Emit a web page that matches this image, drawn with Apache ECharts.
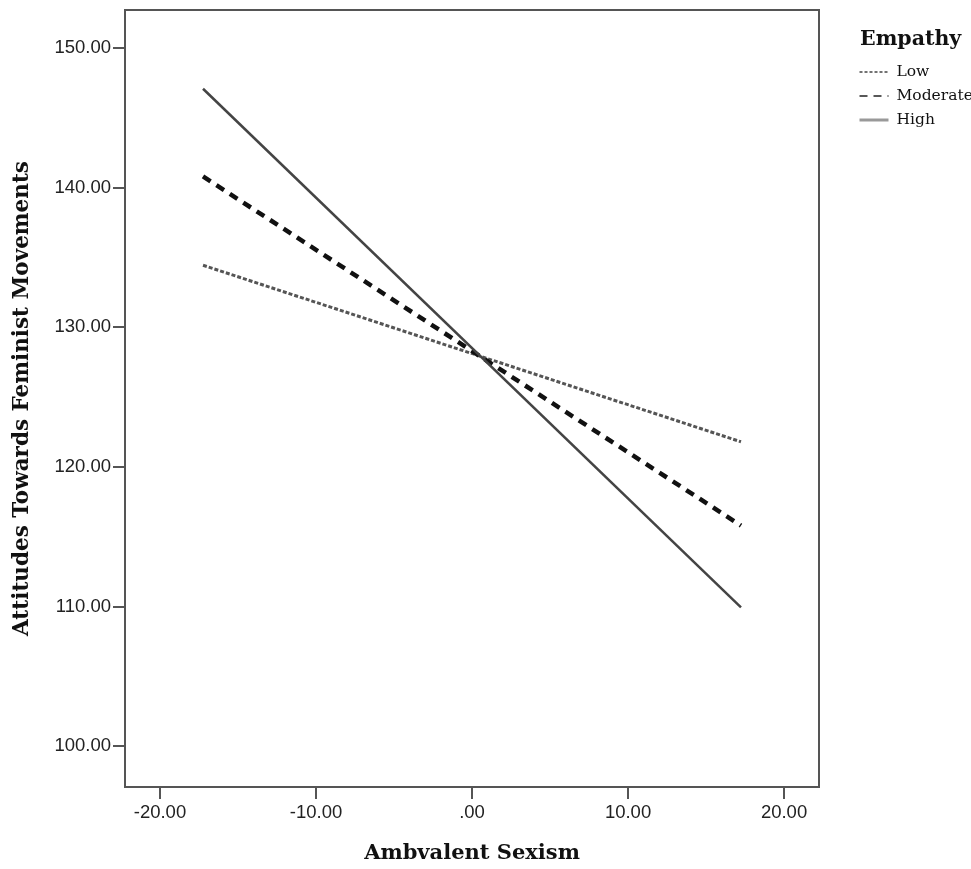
<!DOCTYPE html>
<html>
<head>
<meta charset="utf-8">
<script src="https://cdn.jsdelivr.net/npm/echarts@6/dist/echarts.min.js"></script>
<style>
  html, body { margin: 0; padding: 0; background: #fff; }
  #chart { width: 971px; height: 869px; }
</style>
</head>
<body>
<div id="chart"></div>
<script>
// 图例分组
const groups = ["Low", "Moderate", "High"];
// x 端点 (Ambvalent Sexism)
const xEnds = [-17.24, 17.24];
// 各组 y 端点
const lowVals = [134.43, 121.79];
const moderateVals = [140.79, 115.79];
const highVals = [147.07, 109.93];
// 刻度
const xTicks = [-20, -10, 0, 10, 20];
const yTicks = [100, 110, 120, 130, 140, 150];

function pairs(ys) {
  return xEnds.map((x, i) => [x, ys[i]]);
}
function fmt(v) {
  if (v === 0) return ".00";
  return v.toFixed(2);
}

const myChart = echarts.init(document.getElementById("chart"));
const axisColor = "#555";
const serif = "DejaVu Serif";

const option = {
  backgroundColor: "#fff",
  animation: false,
  title: {
    text: "Empathy",
    left: 855,
    top: 24,
    textStyle: { fontFamily: serif, fontWeight: "bold", fontSize: 20.5, color: "#111" }
  },
  legend: {
    orient: "vertical",
    left: 853,
    top: 59,
    itemWidth: 29,
    itemHeight: 14,
    itemGap: 8,
    textStyle: { fontFamily: serif, fontSize: 15.5, lineHeight: 14, color: "#111", padding: [0, 0, 0, 3] },
    data: [
      { name: groups[0], itemStyle: { opacity: 0 }, lineStyle: { width: 1.5, color: "#444", type: [3, 2] } },
      { name: groups[1], itemStyle: { opacity: 0 }, lineStyle: { width: 1.5, color: "#222", type: [8, 6] } },
      { name: groups[2], itemStyle: { opacity: 0 }, lineStyle: { width: 3, color: "#999", type: "solid" } }
    ]
  },
  grid: {
    left: 125,
    right: 152,
    top: 10,
    bottom: 81,
    show: true,
    borderColor: axisColor,
    borderWidth: 2
  },
  xAxis: {
    type: "value",
    min: -22.24,
    max: 22.24,
    name: "Ambvalent Sexism",
    nameLocation: "middle",
    nameGap: 56,
    nameMoveOverlap: false,
    nameTextStyle: { fontFamily: serif, fontWeight: "bold", fontSize: 21, color: "#111" },
    axisLine: { show: true, onZero: false, lineStyle: { color: axisColor, width: 2 } },
    axisTick: { show: true, inside: false, length: 12, customValues: xTicks, lineStyle: { color: axisColor, width: 2 } },
    axisLabel: {
      customValues: xTicks,
      formatter: fmt,
      margin: 16,
      fontFamily: "Liberation Sans",
      fontSize: 18.5,
      color: "#222"
    },
    splitLine: { show: false }
  },
  yAxis: {
    type: "value",
    min: 97.07,
    max: 152.71,
    name: "Attitudes Towards Feminist Movements",
    nameLocation: "middle",
    nameRotate: 90,
    nameGap: 92,
    nameTextStyle: { fontFamily: serif, fontWeight: "bold", fontSize: 21.5, color: "#111" },
    axisLine: { show: true, onZero: false, lineStyle: { color: axisColor, width: 2 } },
    axisTick: { show: true, inside: false, length: 12, customValues: yTicks, lineStyle: { color: axisColor, width: 2 } },
    axisLabel: {
      customValues: yTicks,
      formatter: fmt,
      margin: 14,
      fontFamily: "Liberation Sans",
      fontSize: 18.5,
      color: "#222"
    },
    splitLine: { show: false }
  },
  series: [
    {
      name: groups[0],
      type: "line",
      symbol: "none",
      data: pairs(lowVals),
      lineStyle: { color: "#555", width: 3, type: [4, 2] },
      itemStyle: { color: "#555" }
    },
    {
      name: groups[1],
      type: "line",
      symbol: "none",
      data: pairs(moderateVals),
      lineStyle: { color: "#111", width: 4.5, type: [9, 7] },
      itemStyle: { color: "#111" }
    },
    {
      name: groups[2],
      type: "line",
      symbol: "none",
      data: pairs(highVals),
      lineStyle: { color: "#444", width: 2.5, type: "solid" },
      itemStyle: { color: "#444" }
    }
  ]
};

myChart.setOption(option);
</script>
</body>
</html>
